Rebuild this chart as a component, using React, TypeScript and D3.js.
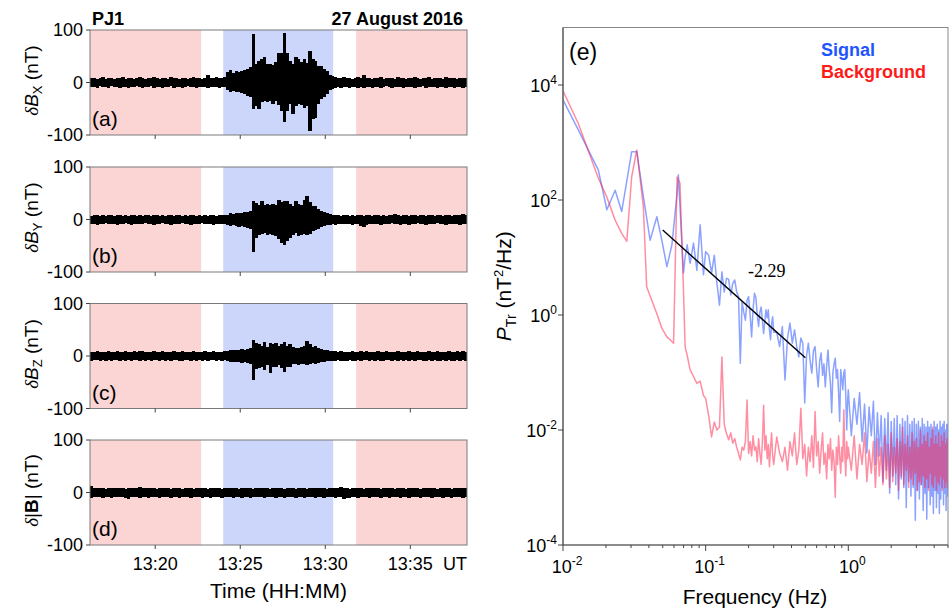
import React from "react";
import * as d3 from "d3";

// ---------------- Time series (panels a-d): per-10 s bin envelope, nT ----------------
const seriesStart = "13:16:10";
const binSeconds = 10;
const timeDomain = ["13:16:10", "13:38:20"];
const timeTickLabels = ["13:20", "13:25", "13:30", "13:35"];
const backgroundIntervals = [
  ["13:16:10", "13:22:42"],
  ["13:31:49", "13:38:20"],
];
const signalInterval = ["13:24:00", "13:30:28"];
const fieldTicks = [-100, 0, 100];

const dBxMax = [
  8, 9, 7, 8, 10, 7, 9, 8, 6, 9, 8, 10, 7, 8, 9, 7, 8, 11, 8, 7, 9, 8, 10, 8, 7, 9, 8, 7, 10, 8, 9, 7, 8, 9, 7, 8, 10, 8, 9, 7,
  8, 14, 9, 8, 10, 9, 8, 10, 20, 24, 18, 22, 20, 22, 24, 25, 30, 92, 35, 41, 44, 48, 35, 35, 33, 40, 57, 57, 95, 57,
  41, 35, 48, 44, 40, 44, 38, 60, 45, 41, 32, 32, 25, 22, 15, 12, 10, 9, 8, 10, 9, 8, 7, 9, 10, 8, 15, 9, 8, 7,
  9, 8, 10, 7, 8, 9, 8, 7, 10, 9, 8, 7, 9, 8, 10, 8, 7, 9, 8, 10, 7, 8, 9, 8, 7, 10, 8, 9, 8, 7, 9, 8, 9,
];
const dBxMin = [
  -9, -8, -10, -7, -9, -8, -10, -7, -9, -8, -10, -8, -9, -11, -8, -9, -7, -9, -10, -8, -9, -7, -10, -8, -9, -11, -8, -9, -7, -10,
  -8, -9, -10, -8, -7, -9, -8, -10, -9, -8, -9, -10, -8, -9, -8, -10, -9, -9, -15, -18, -16, -19, -18, -20, -22, -25, -28, -51, -45, -51,
  -38, -36, -38, -35, -40, -35, -42, -54, -75, -54, -40, -60, -45, -40, -42, -48, -45, -92, -70, -67, -40, -32, -28, -22, -15, -12, -10, -9, -10, -8,
  -9, -10, -8, -9, -11, -8, -10, -9, -8, -10, -9, -8, -10, -9, -7, -9, -10, -8, -9, -8, -10, -9, -8, -9, -10, -8, -9, -7, -10, -9,
  -8, -9, -10, -8, -9, -10, -8, -9, -10, -8, -9, -10, -9,
];
const dByMax = [
  7, 9, 8, 6, 8, 7, 9, 8, 7, 8, 9, 7, 8, 6, 8, 9, 7, 8, 7, 9, 8, 7, 9, 8, 6, 8, 7, 9, 8, 7, 8, 9, 7, 8, 7, 8, 9, 7, 8, 6,
  8, 7, 9, 8, 7, 8, 9, 8, 9, 12, 11, 12, 13, 12, 15, 14, 16, 35, 32, 28, 35, 28, 29, 27, 30, 28, 38, 33, 35, 35,
  30, 25, 35, 30, 28, 38, 44, 33, 25, 25, 20, 16, 14, 12, 10, 9, 8, 9, 7, 8, 9, 7, 8, 7, 9, 8, 7, 8, 9, 7,
  8, 9, 7, 8, 6, 9, 8, 11, 8, 7, 9, 8, 7, 8, 9, 7, 8, 9, 7, 8, 8, 7, 9, 8, 7, 8, 9, 7, 8, 9, 8, 10, 9,
];
const dByMin = [
  -9, -8, -10, -8, -9, -7, -8, -9, -8, -10, -8, -9, -7, -8, -10, -8, -9, -8, -9, -7, -9, -8, -10, -8, -9, -7, -8, -9, -10, -8,
  -9, -8, -7, -9, -8, -10, -8, -9, -8, -7, -8, -9, -8, -10, -8, -9, -8, -9, -10, -12, -10, -12, -14, -13, -15, -16, -18, -62, -35, -30,
  -28, -25, -30, -28, -30, -32, -38, -45, -48, -40, -35, -30, -25, -32, -30, -28, -30, -28, -22, -20, -18, -15, -12, -11, -10, -9, -10, -9, -8, -9,
  -8, -9, -10, -8, -9, -12, -15, -10, -9, -8, -9, -8, -10, -9, -8, -9, -7, -9, -8, -10, -8, -9, -10, -8, -9, -7, -8, -9, -10, -8,
  -9, -8, -7, -9, -8, -10, -9, -8, -9, -8, -10, -9, -8,
];
const dBzMax = [
  8, 7, 9, 8, 7, 8, 9, 7, 8, 9, 7, 8, 10, 8, 7, 9, 8, 9, 10, 8, 7, 8, 9, 7, 8, 9, 8, 7, 8, 9, 7, 8, 9, 8, 7, 8, 9, 8, 7, 8,
  9, 7, 8, 9, 8, 7, 8, 9, 10, 11, 12, 11, 12, 13, 12, 14, 15, 30, 25, 22, 20, 27, 18, 25, 22, 25, 20, 22, 26, 20,
  22, 18, 15, 15, 18, 20, 29, 22, 18, 20, 16, 14, 12, 11, 10, 10, 9, 8, 9, 8, 7, 8, 9, 8, 7, 9, 8, 9, 8, 7,
  8, 9, 7, 8, 9, 8, 7, 8, 9, 8, 7, 8, 9, 8, 7, 9, 8, 7, 8, 9, 8, 7, 9, 8, 7, 8, 9, 8, 7, 9, 8, 9, 8,
];
const dBzMin = [
  -9, -8, -7, -9, -8, -10, -8, -9, -7, -8, -9, -8, -10, -8, -9, -7, -8, -9, -8, -10, -8, -9, -7, -8, -10, -8, -9, -7, -9, -8,
  -8, -9, -10, -8, -7, -9, -8, -9, -8, -10, -8, -9, -7, -8, -9, -8, -10, -8, -10, -12, -11, -12, -12, -13, -12, -14, -15, -46, -25, -22,
  -20, -27, -18, -32, -20, -20, -18, -22, -30, -20, -20, -15, -15, -18, -15, -16, -18, -15, -14, -15, -14, -12, -11, -10, -10, -9, -9, -8, -9, -10,
  -9, -8, -9, -10, -8, -9, -7, -8, -9, -8, -9, -8, -10, -9, -8, -7, -9, -8, -9, -8, -10, -8, -9, -8, -9, -7, -8, -10, -9, -8,
  -9, -8, -9, -10, -8, -9, -8, -9, -10, -8, -9, -8, -9,
];
const dBmagMax = [
  12, 9, 8, 9, 8, 7, 9, 8, 9, 8, 9, 8, 7, 9, 8, 9, 8, 10, 8, 9, 8, 9, 8, 7, 9, 8, 9, 8, 7, 9, 8, 9, 7, 8, 9, 8, 7, 9, 8, 9,
  8, 7, 9, 8, 9, 8, 7, 8, 9, 8, 9, 8, 7, 9, 8, 9, 8, 7, 8, 9, 8, 9, 8, 7, 9, 8, 9, 8, 7, 8,
  9, 8, 7, 8, 9, 8, 7, 9, 8, 9, 8, 9, 8, 7, 9, 8, 9, 8, 10, 9, 8, 7, 9, 8, 9, 8, 7, 9, 8, 9,
  8, 9, 7, 8, 9, 8, 9, 7, 8, 9, 8, 7, 9, 8, 9, 8, 7, 8, 9, 8, 9, 8, 7, 9, 8, 9, 8, 7, 9, 8, 9, 8, 9,
];
const dBmagMin = [
  -10, -9, -8, -9, -10, -8, -9, -10, -8, -9, -9, -8, -10, -12, -9, -8, -9, -10, -8, -9, -10, -8, -9, -8, -10, -9, -8, -9, -10, -8,
  -9, -10, -8, -9, -8, -10, -9, -8, -9, -10, -8, -9, -10, -8, -9, -8, -10, -9, -8, -9, -10, -8, -9, -10, -8, -9, -10, -8, -9, -8,
  -9, -10, -8, -9, -8, -10, -9, -8, -10, -9, -8, -9, -10, -8, -9, -10, -8, -9, -8, -10, -9, -8, -10, -9, -8, -9, -10, -8, -9, -12,
  -11, -10, -8, -9, -10, -8, -9, -8, -10, -9, -8, -9, -10, -8, -9, -10, -8, -9, -8, -10, -9, -8, -10, -9, -8, -9, -10, -8, -9, -8,
  -10, -9, -8, -9, -10, -8, -9, -10, -8, -9, -8, -10, -9,
];

// ---------------- Spectrum (panel e) ----------------
const freqHz = [
  0.01, 0.0128, 0.0177, 0.0203, 0.0232, 0.0258, 0.028, 0.0303, 0.0329, 0.0366, 0.0386, 0.0408, 0.0455, 0.0493, 0.0535, 0.058,
  0.0596, 0.0631, 0.0644, 0.0661, 0.0699, 0.0718, 0.0742, 0.0778, 0.0822, 0.0868, 0.0915, 0.0966,
  0.1, 0.105, 0.11, 0.115, 0.12, 0.125, 0.13, 0.135, 0.14, 0.145, 0.15, 0.155, 0.16, 0.165, 0.17, 0.175, 0.18, 0.185, 0.19, 0.195,
  0.2, 0.205, 0.21, 0.215, 0.22, 0.225, 0.23, 0.235, 0.24, 0.245, 0.25, 0.255, 0.26, 0.265, 0.27, 0.275, 0.28, 0.285, 0.29, 0.295, 0.3,
  0.315, 0.33, 0.345, 0.36, 0.375, 0.39, 0.405, 0.42, 0.435, 0.45, 0.465, 0.48, 0.495, 0.51, 0.525, 0.54, 0.555, 0.57, 0.585, 0.6,
  0.615, 0.63, 0.645, 0.66, 0.675, 0.69, 0.705, 0.72, 0.735, 0.75, 0.765, 0.78, 0.795, 0.81, 0.825, 0.84, 0.855, 0.87, 0.885, 0.9,
  0.915, 0.93, 0.945, 0.96, 0.975, 0.99,
  1, 1.05, 1.1, 1.15, 1.2, 1.25, 1.3, 1.35, 1.4, 1.45, 1.5, 1.55, 1.6, 1.65, 1.7, 1.75, 1.8, 1.85, 1.9, 1.95,
  2, 2.05, 2.1, 2.15, 2.2, 2.25, 2.3, 2.35, 2.4, 2.45, 2.5, 2.55, 2.6, 2.65, 2.7, 2.75, 2.8, 2.85, 2.9, 2.95,
  3, 3.05, 3.1, 3.15, 3.2, 3.25, 3.3, 3.35, 3.4, 3.45, 3.5, 3.55, 3.6, 3.65, 3.7, 3.75, 3.8, 3.85, 3.9, 3.95,
  4, 4.05, 4.1, 4.15, 4.2, 4.25, 4.3, 4.35, 4.4, 4.45, 4.5, 4.55, 4.6, 4.65, 4.7, 4.75, 4.8, 4.85, 4.9, 4.95, 5,
];
// log10 of P_Tr (nT^2/Hz)
const signalLog10P = [
  3.74, 3.22, 2.52, 1.83, 2.17, 1.8, 2.33, 2.84, 2.84, 2.06, 1.69, 1.3, 1.71, 1.3, 0.84, 1.22, 1.51, 2.12, 2.44, 1.88, 0.73, 1.0,
  1.22, 0.9, 1.25, 0.78, 1.57, 0.7,
  1.1, 1.04, 0.73, 1.04, 0.55, 0.17, 0.75, 0.4, 0.64, 0.62, 0.35, 0.55, 0.61, 0.4, 0.32, -0.84, 0.23, 0.05, -0.09, 0.25,
  0.32, 0.0, -0.38, 0.1, 0.38, 0.3, 0.0, -0.2, 0.05, 0.14, -0.1, -0.32, -0.1, 0.09, -0.05, 0.09, -0.25, -0.43, -0.15, -0.03, -0.3,
  -0.3, -0.55, -0.2, -1.13, -0.4, -0.14, -0.49, -0.26, -0.55, -0.73, -0.4, -0.49, -1.53, -0.7, -0.49, -0.8, -1.01, -0.62, -0.55, -0.95,
  -1.25, -0.8, -0.66, -1.05, -0.85, -1.25, -0.9, -0.61, -0.95, -1.2, -1.7, -1.0, -0.85, -0.75, -1.1, -0.95, -1.36, -1.85, -0.95, -1.1,
  -1.3, -1.0, -0.95, -1.4, -2.0, -1.48,
  -1.3, -2.1, -1.45, -1.9, -1.35, -2.2, -1.55, -2.4, -1.6, -2.1, -1.5, -2.6, -1.7, -2.45, -1.75, -2.9, -1.8, -2.7, -1.7, -3.1,
  -1.85, -2.8, -1.8, -2.95, -1.75, -3.2, -1.9, -2.85, -1.8, -3.0, -1.85, -3.35, -1.75, -2.9, -1.9, -3.15, -1.85, -3.0, -1.8, -3.57,
  -1.9, -3.05, -1.85, -3.2, -1.95, -2.95, -1.8, -3.4, -1.9, -3.1, -1.95, -3.55, -1.85, -3.0, -1.95, -3.3, -1.9, -3.15, -2.0, -3.45,
  -1.85, -3.05, -1.95, -3.35, -1.9, -3.1, -2.0, -3.45, -1.85, -3.2, -1.95, -3.0, -1.9, -3.3, -1.85, -3.1, -2.0, -3.4, -1.9, -3.15, -1.9,
];
const backgroundLog10P = [
  3.9, 3.33, 2.38, 2.05, 1.65, 1.42, 1.28, 2.4, 2.87, 1.88, 0.49, 0.33, 0.02, -0.23, -0.38, -0.46, -0.49, 2.4, 2.35, 2.29, 0.43,
  -0.55, -0.7, -0.95, -1.07, -1.19, -1.15, -1.4,
  -1.45, -1.75, -2.12, -1.86, -2.0, -1.95, -0.73, -1.9, -2.06, -2.17, -2.05, -2.23, -2.15, -2.3, -2.41, -2.52, -2.3, -2.35, -2.2, -1.48,
  -2.41, -2.2, -2.45, -2.1, -2.35, -2.29, -2.55, -2.15, -2.4, -2.6, -2.2, -1.57, -2.35, -2.1, -2.5, -2.25, -2.64, -2.3, -2.05, -2.45, -2.6,
  -2.12, -2.4, -2.55, -2.3, -2.7, -2.2, -2.45, -2.05, -2.6, -2.35, -1.62, -2.5, -2.25, -2.8, -2.3, -2.55, -2.1, -2.65, -1.68, -2.45,
  -2.2, -2.75, -2.35, -2.05, -2.6, -2.4, -2.85, -2.25, -2.5, -2.15, -2.7, -2.35, -2.55, -3.17, -2.3, -2.6, -2.1, -2.45, -2.75, -2.3,
  -2.55, -1.65, -2.4, -2.8, -2.2, -2.5,
  -2.3, -2.7, -2.1, -2.85, -2.25, -2.6, -2.05, -2.9, -2.35, -2.75, -2.2, -3.0, -2.15, -2.8, -2.3, -2.95, -2.1, -2.85, -2.25, -3.0,
  -2.05, -2.9, -2.3, -2.75, -2.15, -3.05, -2.2, -2.8, -1.95, -2.95, -2.25, -2.7, -2.1, -3.0, -2.3, -2.85, -2.05, -2.95, -2.2, -2.75,
  -2.15, -3.05, -2.3, -2.9, -2.0, -2.95, -2.25, -2.8, -2.1, -3.0, -2.2, -2.85, -2.05, -3.05, -2.3, -2.75, -2.15, -2.95, -1.95, -3.0,
  -2.25, -2.8, -2.1, -3.05, -2.25, -2.9, -2.05, -2.95, -2.3, -2.8, -2.1, -3.05, -2.2, -2.85, -2.05, -3.0, -2.25, -2.9, -2.15, -3.0, -2.2,
];
const fitLine = [
  [0.05, 30],
  [0.5, 0.18],
];
const fitSlopeLabel = "-2.29";
const powerTickExps = [-4, -2, 0, 2, 4];
const freqTickExps = [-2, -1, 0];
const legendItems = [
  { name: "Signal", color: "#1f55ff" },
  { name: "Background", color: "#ff1a1a" },
];

const SANS = "'Liberation Sans', Arial, Helvetica, sans-serif";
const SERIF = "'Liberation Serif', 'Times New Roman', serif";

function toMin(hms: string) {
  const p = hms.split(":").map(Number);
  return (p[0] - 13) * 60 + p[1] + (p[2] || 0) / 60;
}

const panelDefs = [
  { letter: "(a)", max: dBxMax, min: dBxMin, comp: "X" },
  { letter: "(b)", max: dByMax, min: dByMin, comp: "Y" },
  { letter: "(c)", max: dBzMax, min: dBzMin, comp: "Z" },
  { letter: "(d)", max: dBmagMax, min: dBmagMin, comp: "" },
];

export default function App() {
  const L = 90,
    R = 467,
    PH = 105;
  const tops = [30, 167, 303.5, 440];
  const xT = d3.scaleLinear().domain([toMin(timeDomain[0]), toMin(timeDomain[1])]).range([L, R]);
  const t0 = toMin(seriesStart);

  // spectrum scales
  const SL = 563,
    SR = 948,
    ST = 27.5,
    SB = 545;
  const xF = d3.scaleLog().domain([0.01, 5]).range([SL, SR]);
  const yP = d3.scaleLog().domain([1e-4, 1e5]).range([SB, ST]);
  const line = d3
    .line<[number, number]>()
    .x((d) => xF(d[0]))
    .y((d) => yP(d[1]));
  const n = Math.min(freqHz.length, signalLog10P.length, backgroundLog10P.length);
  const sigPts: [number, number][] = [];
  const bgPts: [number, number][] = [];
  for (let i = 0; i < n; i++) {
    sigPts.push([freqHz[i], Math.pow(10, signalLog10P[i])]);
    bgPts.push([freqHz[i], Math.pow(10, backgroundLog10P[i])]);
  }
  const minorF: number[] = [];
  freqTickExps.forEach((e) => {
    for (let m = 2; m <= 9; m++) {
      const f = m * Math.pow(10, e);
      if (f <= 5.0001) minorF.push(f);
    }
  });

  return (
    <svg width={950} height={615} style={{ position: "absolute", left: 0, top: 0, background: "#fff" }} fontFamily={SANS}>
      <defs>
        {tops.map((t, i) => (
          <clipPath id={`clip${i}`} key={i}>
            <rect x={L} y={t} width={R - L} height={PH} />
          </clipPath>
        ))}
        <clipPath id="clipSpec">
          <rect x={SL} y={ST} width={SR - SL} height={SB - ST} />
        </clipPath>
      </defs>

      {/* header */}
      <text x={92} y={25} fontSize={18} fontWeight="bold">
        PJ1
      </text>
      <text x={463} y={25} fontSize={18} fontWeight="bold" textAnchor="end">
        27 August 2016
      </text>

      {panelDefs.map((p, pi) => {
        const top = tops[pi];
        const y = d3.scaleLinear().domain([-100, 100]).range([top + PH, top]);
        const cy = top + PH / 2;
        return (
          <g key={pi}>
            {backgroundIntervals.map((iv, k) => (
              <rect
                key={k}
                x={xT(toMin(iv[0]))}
                y={top}
                width={xT(toMin(iv[1])) - xT(toMin(iv[0]))}
                height={PH}
                fill="#fbd4d4"
              />
            ))}
            <rect
              x={xT(toMin(signalInterval[0]))}
              y={top}
              width={xT(toMin(signalInterval[1])) - xT(toMin(signalInterval[0]))}
              height={PH}
              fill="#cbd6fa"
            />
            <g clipPath={`url(#clip${pi})`} shapeRendering="crispEdges">
              {p.max.map((mx, i) => {
                const a = xT(t0 + (i * binSeconds) / 60);
                const b = xT(t0 + ((i + 1) * binSeconds) / 60);
                const mn = p.min[i] ?? -mx;
                return <rect key={i} x={a} width={b - a + 0.6} y={y(mx)} height={y(mn) - y(mx)} fill="#000" />;
              })}
            </g>
            <rect x={L} y={top} width={R - L} height={PH} fill="none" stroke="#7a7a7a" strokeWidth={1} />
            {fieldTicks.map((v) => (
              <g key={v}>
                <line x1={L - 4} x2={L} y1={y(v)} y2={y(v)} stroke="#444" />
                <text x={L - 7} y={y(v)} dy="0.35em" fontSize={18} textAnchor="end">
                  {v}
                </text>
              </g>
            ))}
            {timeTickLabels.map((tl) => (
              <line key={tl} x1={xT(toMin(tl))} x2={xT(toMin(tl))} y1={top + PH} y2={top + PH + 4} stroke="#444" />
            ))}
            <text x={92} y={top + 96} fontSize={21}>
              {p.letter}
            </text>
            <text transform={`translate(38,${cy - 2}) rotate(-90)`} textAnchor="middle" fontSize={19}>
              <tspan fontFamily={SERIF} fontStyle="italic">
                δ
              </tspan>
              {p.comp ? (
                <>
                  <tspan fontStyle="italic">B</tspan>
                  <tspan fontSize={13} dy={4}>
                    {p.comp}
                  </tspan>
                  <tspan dy={-4}> (nT)</tspan>
                </>
              ) : (
                <>
                  <tspan>|</tspan>
                  <tspan fontWeight="bold">B</tspan>
                  <tspan>| (nT)</tspan>
                </>
              )}
            </text>
            {pi === 3 && (
              <g>
                {timeTickLabels.map((tl) => (
                  <text key={tl} x={xT(toMin(tl))} y={top + PH + 25} fontSize={18} textAnchor="middle">
                    {tl}
                  </text>
                ))}
                <text x={R} y={top + PH + 25} fontSize={18} textAnchor="end">
                  UT
                </text>
                <text x={(L + R) / 2} y={598} fontSize={21} textAnchor="middle">
                  Time (HH:MM)
                </text>
              </g>
            )}
          </g>
        );
      })}

      {/* spectrum panel */}
      <g clipPath="url(#clipSpec)">
        <path d={line(sigPts) || ""} fill="none" stroke="#8ca2ff" strokeWidth={1.5} strokeLinejoin="round" />
        <path
          d={line(bgPts) || ""}
          fill="none"
          stroke="rgb(255,30,70)"
          strokeOpacity={0.5}
          strokeWidth={1.5}
          strokeLinejoin="round"
        />
        <line
          x1={xF(fitLine[0][0])}
          y1={yP(fitLine[0][1])}
          x2={xF(fitLine[1][0])}
          y2={yP(fitLine[1][1])}
          stroke="#000"
          strokeWidth={1.4}
        />
      </g>
      <rect x={SL} y={ST} width={SR - SL} height={SB - ST} fill="none" stroke="#888" strokeWidth={1} />
      <line x1={SL} x2={SL} y1={ST} y2={SB} stroke="#555" strokeWidth={1.2} />
      <line x1={SL} x2={SR} y1={SB} y2={SB} stroke="#555" strokeWidth={1.2} />
      <text x={748} y={277} fontFamily={SERIF} fontSize={18}>
        {fitSlopeLabel}
      </text>
      <text x={569} y={60} fontSize={23}>
        (e)
      </text>
      {legendItems.map((it, i) => (
        <text key={it.name} x={821} y={56 + i * 22} fontSize={18} fontWeight="bold" fill={it.color}>
          {it.name}
        </text>
      ))}
      {powerTickExps.map((e) => (
        <g key={e}>
          <line x1={SL - 5} x2={SL} y1={yP(Math.pow(10, e))} y2={yP(Math.pow(10, e))} stroke="#444" />
          <text x={SL - 6} y={yP(Math.pow(10, e)) + 7} fontSize={18} textAnchor="end">
            <tspan>10</tspan>
            <tspan fontSize={12} dy={-8}>
              {e}
            </tspan>
          </text>
        </g>
      ))}
      {minorF.map((f) => (
        <line key={f} x1={xF(f)} x2={xF(f)} y1={SB} y2={SB + 3} stroke="#444" />
      ))}
      {freqTickExps.map((e) => (
        <g key={e}>
          <line x1={xF(Math.pow(10, e))} x2={xF(Math.pow(10, e))} y1={SB} y2={SB + 6} stroke="#444" />
          <text x={xF(Math.pow(10, e)) + 4} y={573} fontSize={18} textAnchor="middle">
            <tspan>10</tspan>
            <tspan fontSize={12} dy={-8}>
              {e}
            </tspan>
          </text>
        </g>
      ))}
      <text x={755} y={604} fontSize={21} textAnchor="middle">
        Frequency (Hz)
      </text>
      <text transform={`translate(511,${(ST + SB) / 2}) rotate(-90)`} textAnchor="middle" fontSize={21}>
        <tspan fontStyle="italic">P</tspan>
        <tspan fontSize={14} dy={5}>
          Tr
        </tspan>
        <tspan dy={-5}> (nT</tspan>
        <tspan fontSize={13} dy={-8}>
          2
        </tspan>
        <tspan dy={8}>/Hz)</tspan>
      </text>
    </svg>
  );
}
